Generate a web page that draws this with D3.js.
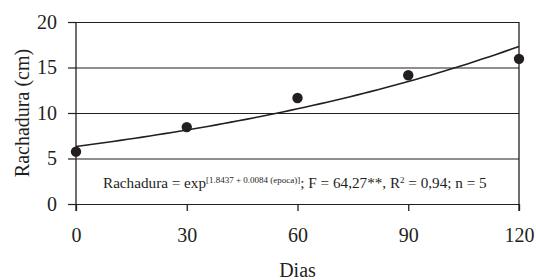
<!DOCTYPE html>
<html>
<head>
<meta charset="utf-8">
<script src="https://cdn.jsdelivr.net/npm/d3@7"></script>
<style>
  body { margin: 0; background: #fff; }
  svg text { font-family: "Liberation Serif", "Times New Roman", Tinos, serif !important; }
</style>
</head>
<body>
<div id="chart"></div>
<script>
// data
var dias = [0, 30, 60, 90, 120];
var rachadura = [5.75, 8.45, 11.65, 14.15, 15.95];
var xTicks = [0, 30, 60, 90, 120];
var yTicks = [0, 5, 10, 15, 20];
// fitted model: exp(1.8437 + 0.0084 * epoca)
var coefA = 1.8437;
var coefB = 0.0084;

var svg_width = 536;
var svg_height = 280;
var margin = { top: 22, right: 17, bottom: 76, left: 76 };
var width = svg_width - margin.left - margin.right;
var height = svg_height - margin.top - margin.bottom;

var ink = "#231f20";

var svg = d3.select("#chart").append("svg")
  .attr("width", svg_width)
  .attr("height", svg_height);

var g = svg.append("g")
  .attr("transform", `translate(${margin.left}, ${margin.top})`);

var x = d3.scaleLinear().domain([0, 120]).range([0, width]);
var y = d3.scaleLinear().domain([0, 20]).range([height, 0]);

// horizontal grid lines
g.selectAll(".grid").data(yTicks).enter().append("line")
  .attr("x1", 0).attr("x2", width)
  .attr("y1", d => y(d) + 0.5).attr("y2", d => y(d) + 0.5)
  .attr("stroke", ink).attr("stroke-width", 1.2);

// y axis
var leftAxis = d3.axisLeft(y).tickValues(yTicks).tickSize(8).tickPadding(11);
var ya = g.append("g").call(leftAxis);
ya.attr("font-family", null);
ya.select(".domain").remove();
ya.selectAll("line").attr("stroke", ink).attr("stroke-width", 1.2);
ya.selectAll("text").attr("font-size", 20).attr("fill", ink);

// vertical axis lines (left and right), running past the bottom a bit
g.selectAll(".vline").data([0, 120]).enter().append("line")
  .attr("x1", d => x(d)).attr("x2", d => x(d))
  .attr("y1", 0).attr("y2", height + 7)
  .attr("stroke", ink).attr("stroke-width", 1.3);

// x axis
var bottomAxis = d3.axisBottom(x).tickValues(xTicks).tickSize(7).tickPadding(17);
var xa = g.append("g").attr("transform", `translate(0, ${height})`).call(bottomAxis);
xa.attr("font-family", null);
xa.select(".domain").remove();
xa.selectAll("line").attr("stroke", ink).attr("stroke-width", 1.3);
xa.selectAll("text").attr("font-size", 20).attr("fill", ink);

// fitted curve
var curveX = d3.range(0, 121, 2);
var line = d3.line()
  .x(d => x(d))
  .y(d => y(Math.exp(coefA + coefB * d)));
g.append("path").datum(curveX)
  .attr("d", line)
  .attr("fill", "none")
  .attr("stroke", ink)
  .attr("stroke-width", 1.6);

// observed points
g.selectAll(".pt").data(dias).enter().append("circle")
  .attr("cx", d => x(d))
  .attr("cy", (d, i) => y(rachadura[i]))
  .attr("r", 5.2)
  .attr("fill", ink);

// equation
var eq = g.append("text")
  .attr("x", 27)
  .attr("y", 166)
  .attr("fill", ink)
  .attr("font-size", 15.2);
eq.append("tspan").text("Rachadura = exp");
eq.append("tspan").attr("dy", -5).attr("font-size", 9).text("[1.8437 + 0.0084 (epoca)]");
eq.append("tspan").attr("dy", 5).text("; F = 64,27**, R");
eq.append("tspan").attr("dy", -5).attr("font-size", 9).text("2");
eq.append("tspan").attr("dy", 5).text(" = 0,94; n = 5");

// axis titles
svg.append("text")
  .attr("x", margin.left + width / 2)
  .attr("y", 277)
  .attr("text-anchor", "middle")
  .attr("fill", ink)
  .attr("font-size", 20)
  .text("Dias");

svg.append("text")
  .attr("transform", `translate(29, ${margin.top + height / 2}) rotate(-90)`)
  .attr("text-anchor", "middle")
  .attr("fill", ink)
  .attr("font-size", 20)
  .text("Rachadura (cm)");
</script>
</body>
</html>
